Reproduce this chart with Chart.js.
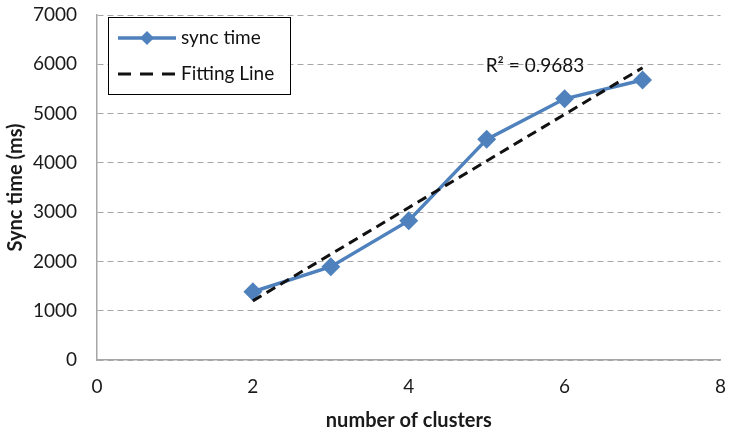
<!DOCTYPE html>
<html>
<head>
<meta charset="utf-8">
<script src="https://cdn.jsdelivr.net/npm/chart.js@4.4.0/dist/chart.umd.min.js"></script>
<style>
html,body{margin:0;padding:0;background:#fff;}
#wrap{width:731px;height:433px;position:relative;}
</style>
</head>
<body>
<div id="wrap"><canvas id="c" width="731" height="433"></canvas></div>
<script>
// ---- data ----
const clusters = [2, 3, 4, 5, 6, 7];
const syncTimes = [1385, 1893, 2826, 4477, 5300, 5680];
const fitX = [2, 7];
const fitY = [1200, 5930];
const rSquaredLabel = 'R² = 0.9683';
const seriesNames = ['sync time', 'Fitting Line'];
const xTicks = [0, 2, 4, 6, 8];
const yTicks = [0, 1000, 2000, 3000, 4000, 5000, 6000, 7000];
const xTitle = 'number of clusters';
const yTitle = 'Sync time (ms)';

const FONT = 'Lato, "Open Sans", sans-serif';
const BLUE = '#4f81bd';

const legendPlugin = {
  id: 'boxLegend',
  afterDraw(chart) {
    const ctx = chart.ctx;
    const a = chart.chartArea;
    const x0 = a.left + 11, y0 = a.top + 2, w = 182, h = 77;
    ctx.save();
    ctx.fillStyle = '#fff';
    ctx.fillRect(x0, y0, w, h);
    ctx.strokeStyle = '#000';
    ctx.lineWidth = 1;
    ctx.strokeRect(x0 + 0.5, y0 + 0.5, w, h);
    const ds = chart.data.datasets;
    // entry 1
    let ly = y0 + 21;
    ctx.strokeStyle = ds[0].borderColor;
    ctx.lineWidth = ds[0].borderWidth;
    ctx.beginPath(); ctx.moveTo(x0 + 10, ly); ctx.lineTo(x0 + 68, ly); ctx.stroke();
    ctx.fillStyle = ds[0].pointBackgroundColor;
    const r = 7, cx = x0 + 39;
    ctx.beginPath(); ctx.moveTo(cx, ly - r); ctx.lineTo(cx + r, ly); ctx.lineTo(cx, ly + r); ctx.lineTo(cx - r, ly); ctx.closePath(); ctx.fill();
    ctx.fillStyle = '#111';
    ctx.font = '19px ' + FONT;
    ctx.textBaseline = 'middle';
    ctx.fillText(ds[0].label, x0 + 73, ly);
    // entry 2
    ly = y0 + 57;
    ctx.strokeStyle = ds[1].borderColor;
    ctx.lineWidth = ds[1].borderWidth;
    ctx.setLineDash([13, 9]);
    ctx.beginPath(); ctx.moveTo(x0 + 10, ly); ctx.lineTo(x0 + 68, ly); ctx.stroke();
    ctx.setLineDash([]);
    ctx.fillText(ds[1].label, x0 + 73, ly);
    ctx.restore();
  }
};

const r2Plugin = {
  id: 'r2',
  afterDatasetsDraw(chart) {
    const ctx = chart.ctx;
    const xs = chart.scales.x, ys = chart.scales.y;
    ctx.save();
    ctx.fillStyle = '#111';
    ctx.font = '19px ' + FONT;
    ctx.textAlign = 'center';
    ctx.textBaseline = 'middle';
    ctx.fillText(rSquaredLabel, xs.getPixelForValue(5.62), ys.getPixelForValue(5960));
    ctx.restore();
  }
};

new Chart(document.getElementById('c'), {
  type: 'scatter',
  data: {
    datasets: [
      {
        label: seriesNames[0],
        data: clusters.map((x, i) => ({x: x, y: syncTimes[i]})),
        showLine: true,
        borderColor: BLUE,
        backgroundColor: BLUE,
        pointBackgroundColor: BLUE,
        pointBorderColor: BLUE,
        borderWidth: 3.5,
        pointStyle: 'rectRot',
        pointRadius: 7,
        pointHoverRadius: 7,
        order: 2
      },
      {
        label: seriesNames[1],
        data: fitX.map((x, i) => ({x: x, y: fitY[i]})),
        showLine: true,
        borderColor: '#111',
        borderWidth: 3,
        borderDash: [10, 6],
        pointRadius: 0,
        order: 1
      }
    ]
  },
  options: {
    responsive: false,
    animation: false,
    events: [],
    layout: { padding: { top: 15, right: 1, left: 0, bottom: 0 } },
    plugins: { legend: { display: false }, tooltip: { enabled: false } },
    scales: {
      x: {
        type: 'linear',
        min: 0, max: 8,
        afterBuildTicks(s) { s.ticks = xTicks.map(v => ({value: v})); },
        afterFit(s) { s.height = 73; s.paddingLeft = 0; s.paddingRight = 0; },
        grid: { display: false, drawTicks: false },
        border: { display: true, color: '#a6a6a6', width: 1.5 },
        ticks: { color: '#1a1a1a', font: { family: FONT, size: 19 }, padding: 15, callback: v => String(v) },
        title: { display: true, text: xTitle, color: '#1a1a1a', font: { family: FONT, size: 20, weight: 'bold' }, padding: { top: 0, bottom: 0 } }
      },
      y: {
        type: 'linear',
        min: 0, max: 7000,
        afterBuildTicks(s) { s.ticks = yTicks.map(v => ({value: v})); },
        afterFit(s) { s.width = 97; s.paddingTop = 0; s.paddingBottom = 0; },
        grid: { color: '#a6a6a6', lineWidth: 1, drawTicks: false },
        border: { display: true, color: '#a6a6a6', width: 1.5, dash: [6, 4] },
        ticks: { color: '#1a1a1a', font: { family: FONT, size: 19 }, padding: 20, callback: v => String(v) },
        title: { display: true, text: yTitle, color: '#1a1a1a', font: { family: FONT, size: 20, weight: 'bold' }, padding: { top: 4, bottom: 0 } }
      }
    }
  },
  plugins: [legendPlugin, r2Plugin]
});
</script>
</body>
</html>
